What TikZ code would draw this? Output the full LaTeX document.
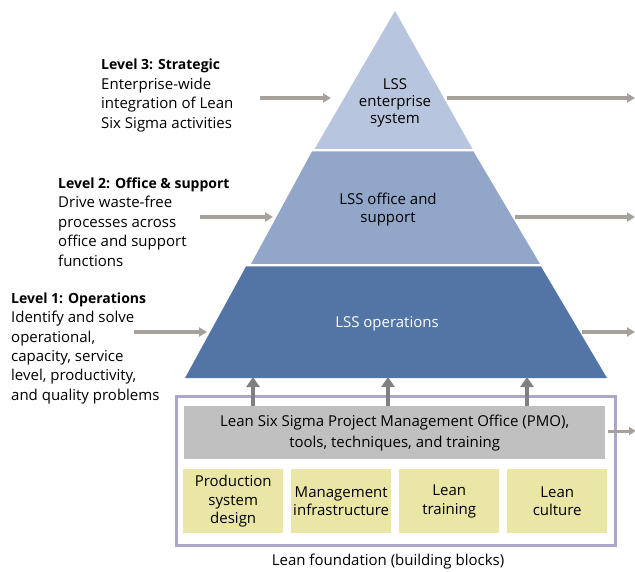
\documentclass[tikz,border=0pt]{standalone}
\usepackage{fontspec}
\setmainfont{Open Sans}
\usetikzlibrary{arrows.meta}
\definecolor{tierA}{RGB}{184,197,222}
\definecolor{tierB}{RGB}{145,166,200}
\definecolor{tierC}{RGB}{82,117,166}
\definecolor{arrgray}{RGB}{166,161,154}
\definecolor{upgray}{RGB}{128,128,128}
\definecolor{framec}{RGB}{172,166,202}
\definecolor{pmogray}{RGB}{192,192,192}
\definecolor{blocky}{RGB}{234,230,166}
\newcommand{\lvhead}[1]{{\fontsize{14}{19.4}\selectfont\bfseries #1}}
\tikzset{
  txt/.style={font=\fontsize{15}{19.4}\selectfont, inner sep=0pt, align=left, anchor=north west},
  ctxt/.style={inner sep=0pt, align=center},
  flow/.style={draw=arrgray, line width=3.5pt, -{Triangle[length=8pt,width=9pt]}},
  uparr/.style={draw=upgray, line width=4.5pt, -{Triangle[length=10pt,width=13pt]}},
  block/.style={fill=blocky, minimum width=100pt, minimum height=64pt, inner sep=0pt, align=center, font=\fontsize{15}{18.7}\selectfont},
}
\begin{document}
\begin{tikzpicture}[x=1pt,y=-1pt]
\useasboundingbox (0,0) rectangle (635,572);
% pyramid tiers
\fill[tierA] (395,11) -- (472.5,149) -- (314.5,149) -- cycle;
\fill[tierB] (312,151.5) -- (473.5,151.5) -- (540,264) -- (251,264) -- cycle;
\fill[tierC] (246,266.5) -- (541,266.5) -- (607,378) -- (185,378) -- cycle;
% labels in pyramid
\node[ctxt, font=\fontsize{15}{17}\selectfont] (t1) at (395,102.5) {LSS\\enterprise\\system};
\node[ctxt, font=\fontsize{15}{18}\selectfont] (t2) at (388,210) {LSS office and\\support};
\node[ctxt, font=\fontsize{15}{18}\selectfont, text=white] (t3) at (387,324) {LSS operations};
% left texts
\node[txt] (l3) at (101,59) {\lvhead{Level 3: Strategic}\\Enterprise-wide\\integration of Lean\\Six Sigma activities};
\node[txt] (l2) at (58,177.5) {\lvhead{Level 2: Office \& support}\\Drive waste-free\\processes across\\office and support\\functions};
\node[txt] (l1) at (11,292.5) {\lvhead{Level 1: Operations}\\Identify and solve\\operational,\\capacity, service\\level, productivity,\\and quality problems};
% left arrow coordinates
\coordinate (a3s) at (260,98);  \coordinate (a3e) at (331,98);
\coordinate (a2s) at (200,217); \coordinate (a2e) at (273,217);
\coordinate (a1s) at (134,332); \coordinate (a1e) at (207,332);
\draw[flow] (a3s) -- (a3e);
\draw[flow] (a2s) -- (a2e);
\draw[flow] (a1s) -- (a1e);
% right arrows
\coordinate (r3s) at (447,98);  \coordinate (r3e) at (635,98);
\coordinate (r2s) at (515,217); \coordinate (r2e) at (635,217);
\coordinate (r1s) at (582,332); \coordinate (r1e) at (635,332);
\draw[flow] (r3s) -- (r3e);
\draw[flow] (r2s) -- (r2e);
\draw[flow] (r1s) -- (r1e);
% foundation frame
\draw[framec, line width=3pt] (176,396) rectangle (615,545);
\node[fill=pmogray, minimum width=421pt, minimum height=53pt, inner sep=0pt, anchor=north west, align=center, font=\fontsize{15}{21}\selectfont] (pmo) at (184,406) {Lean Six Sigma Project Management Office (PMO),\\tools, techniques, and training};
\node[block, anchor=north west] (b1) at (183,469) {Production\\system\\design};
\node[block, anchor=north west] (b2) at (291,469) {Management\\infrastructure};
\node[block, anchor=north west] (b3) at (399,469) {Lean\\training};
\node[block, anchor=north west] (b4) at (507,469) {Lean\\culture};
\node[font=\fontsize{15}{16}\selectfont, inner sep=0pt] (found) at (388,562) {Lean foundation (building blocks)};
% up arrows
\coordinate (u1t) at (253,377); \coordinate (u2t) at (388,377); \coordinate (u3t) at (527,377);
\draw[uparr] (pmo.north -| u1t) -- (u1t);
\draw[uparr] (pmo.north -| u2t) -- (u2t);
\draw[uparr] (pmo.north -| u3t) -- (u3t);
% PMO arrow
\coordinate (pe) at (636,431);
\draw[flow, line width=3pt, -{Triangle[length=7pt,width=8pt]}] (pmo.east |- pe) ++(3,0) -- (pe);
\end{tikzpicture}
\end{document}
